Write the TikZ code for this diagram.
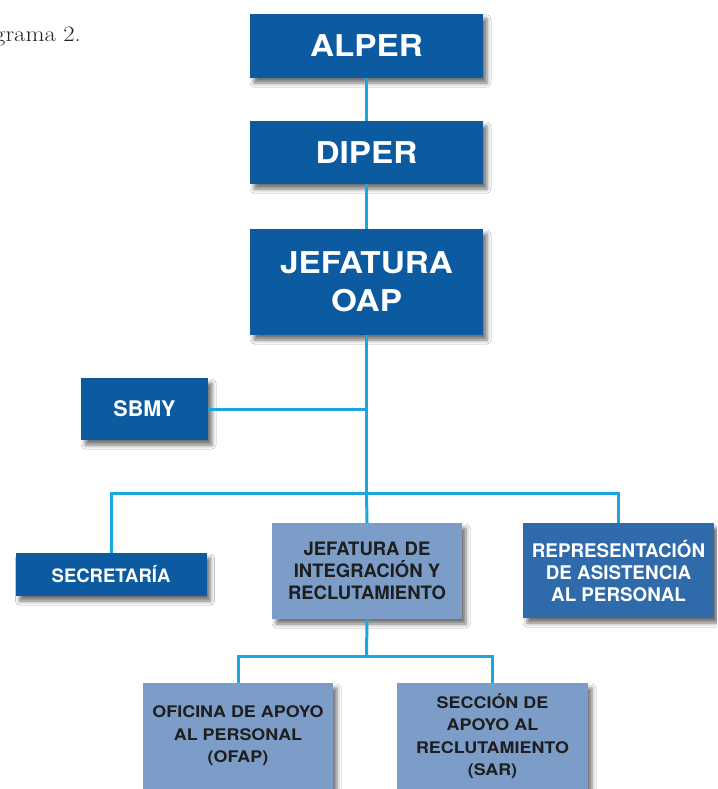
\documentclass[tikz,border=0pt]{standalone}
\usepackage{fontspec}
\setsansfont{TeX Gyre Heros}
\newfontfamily\wideheros[FakeStretch=1.11]{TeX Gyre Heros}
\newfontfamily\lowheros[FakeStretch=1.12]{TeX Gyre Heros}
\newfontfamily\capfont[FakeStretch=1.12]{Latin Modern Roman}
\usetikzlibrary{shadows.blur}
\definecolor{dkblue}{HTML}{0C5AA0}
\definecolor{mdblue}{HTML}{2F6AAA}
\definecolor{ltblue}{HTML}{7B9DC8}
\definecolor{cyanline}{HTML}{1BA6E0}
\definecolor{captxt}{HTML}{222222}
\definecolor{darktxt}{HTML}{1E1E1E}
\begin{document}
\begin{tikzpicture}[x=1pt,y=1pt,
  box/.style={rectangle, inner sep=0pt, align=center,
    blur shadow={shadow xshift=4pt, shadow yshift=-5pt, shadow blur radius=4pt, shadow opacity=55}},
  bigbox/.style={box, fill=dkblue, text=white, font=\wideheros\bfseries\fontsize{30}{38}\selectfont},
  midbox/.style={box, fill=dkblue, text=white, font=\sffamily\bfseries\fontsize{18.5}{22}\selectfont},
  repbox/.style={box, fill=mdblue, text=white, font=\sffamily\bfseries\fontsize{18.8}{22}\selectfont},
  ltbox/.style={box, fill=ltblue, text=darktxt, font=\sffamily\bfseries\fontsize{18.5}{22}\selectfont},
  lowbox/.style={box, fill=ltblue, text=darktxt, font=\lowheros\bfseries\fontsize{16}{22.5}\selectfont},
  conn/.style={draw=cyanline, line width=3pt}
]
\clip (0,0) rectangle (717,-789);
\fill[white] (0,0) rectangle (717,-789);

\node[anchor=base east, text=captxt, font=\capfont\fontsize{22}{26}\selectfont, inner sep=0pt] (cap) at (81,-42) {grama 2.};

\node[bigbox, minimum width=233, minimum height=64] (alper) at (366.5,-46) {ALPER};
\node[bigbox, minimum width=233, minimum height=63] (diper) at (366.5,-152.5) {DIPER};
\node[bigbox, minimum width=233, minimum height=106] (oap) at (366.5,-282) {JEFATURA\\OAP};
\node[midbox, minimum width=127, minimum height=62, font=\sffamily\bfseries\fontsize{21.5}{23}\selectfont] (sbmy) at (144.5,-409) {SBMY};
\node[midbox, minimum width=191, minimum height=43] (secr) at (111,-574.5) {SECRETARÍA};
\node[ltbox, minimum width=190, minimum height=96] (jir) at (367,-571) {JEFATURA DE\\INTEGRACIÓN Y\\RECLUTAMIENTO};
\node[repbox, minimum width=191, minimum height=95] (rap) at (618.5,-570.5) {REPRESENTACIÓN\\DE ASISTENCIA\\AL PERSONAL};
\node[lowbox, minimum width=190, minimum height=106] (ofap) at (238,-736) {OFICINA DE APOYO\\AL PERSONAL\\(OFAP)};
\node[lowbox, minimum width=191, minimum height=106] (sar) at (492.5,-736) {SECCIÓN DE\\APOYO AL\\RECLUTAMIENTO\\(SAR)};

\coordinate (bus) at (366.5,-493);
\coordinate (bus2) at (366.5,-656);

\draw[conn] (alper.south) -- (diper.north);
\draw[conn] (diper.south) -- (oap.north);
\draw[conn] (oap.south) -- (bus);
\draw[conn] (bus) -- (jir.north);
\draw[conn] (sbmy.east) -- (sbmy.east -| oap.south);
\draw[conn] (secr.north) |- (bus) -| (rap.north);
\draw[conn] (jir.south) -- (bus2);
\draw[conn] (ofap.north) |- (bus2) -| (sar.north);
\end{tikzpicture}
\end{document}
